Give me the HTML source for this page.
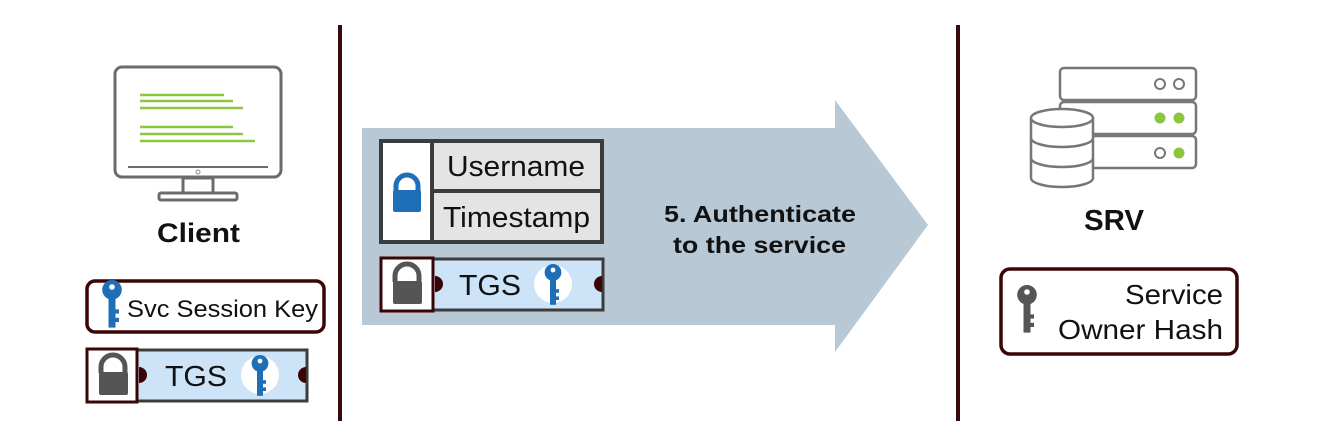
<!DOCTYPE html>
<html><head><meta charset="utf-8"><style>
html,body{margin:0;padding:0;background:#fff;}
svg{display:block;font-family:"Liberation Sans",Arial,sans-serif;}
</style></head><body>
<svg width="1343" height="441" viewBox="0 0 1343 441" xmlns="http://www.w3.org/2000/svg">
<defs>
<g id="bkey"><circle cx="0" cy="-8" r="7"/><rect x="-2.5" y="-3" width="5" height="22"/><rect x="1" y="6" width="4" height="3"/><rect x="1" y="12" width="4" height="3"/><circle cx="0" cy="-10" r="2" fill="#fff"/></g>
</defs>
<rect width="1343" height="441" fill="#fff"/>
<line x1="340" y1="25" x2="340" y2="421" stroke="#3a0a0a" stroke-width="4"/>
<line x1="958" y1="25" x2="958" y2="421" stroke="#3a0a0a" stroke-width="4"/>
<rect x="115" y="67" width="166" height="110" rx="7" fill="#fff" stroke="#6b6b6b" stroke-width="3"/>
<line x1="128" y1="167" x2="268" y2="167" stroke="#6b6b6b" stroke-width="2"/>
<circle cx="198" cy="172" r="2" fill="none" stroke="#888" stroke-width="1"/>
<rect x="183" y="178" width="30" height="15" fill="none" stroke="#6b6b6b" stroke-width="3"/>
<rect x="159" y="193" width="78" height="7" rx="2" fill="none" stroke="#6b6b6b" stroke-width="3"/>
<g stroke="#8cc63f" stroke-width="2.5">
<line x1="140" y1="95" x2="224" y2="95"/><line x1="140" y1="101" x2="233" y2="101"/><line x1="140" y1="108" x2="243" y2="108"/>
<line x1="140" y1="127" x2="233" y2="127"/><line x1="140" y1="134" x2="243" y2="134"/><line x1="140" y1="141" x2="255" y2="141"/>
</g>
<text x="157" y="242" font-size="27" font-weight="bold" textLength="83" lengthAdjust="spacingAndGlyphs" fill="#111">Client</text>
<rect x="87" y="281" width="237" height="51" rx="8" fill="#fff" stroke="#3a0505" stroke-width="3.5"/>
<g fill="#1f6fb8" transform="translate(112,301) scale(1.4)"><use href="#bkey"/></g>
<text x="127" y="317" font-size="24" textLength="191" lengthAdjust="spacingAndGlyphs" fill="#111">Svc Session Key</text>
<rect x="137" y="350" width="170" height="51" fill="#cce3f8" stroke="#3c3c3c" stroke-width="3"/>
<rect x="87" y="349" width="50" height="53" fill="#fff" stroke="#3a0505" stroke-width="3"/>
<path d="M101 373 v-6 a12 12 0 0 1 24 0 v6" fill="none" stroke="#555" stroke-width="5"/>
<rect x="99" y="372" width="29" height="23" rx="2" fill="#555"/>
<path d="M139 367 a8 8 0 0 1 0 16 z" fill="#3a0505"/>
<path d="M306 367 a8 8 0 0 0 0 16 z" fill="#3a0505"/>
<text x="165" y="386" font-size="29" textLength="62" lengthAdjust="spacingAndGlyphs" fill="#111">TGS</text>
<circle cx="260" cy="375" r="19" fill="#fff"/>
<g fill="#1f6fb8" transform="translate(260,373) scale(1.2)"><use href="#bkey"/></g>
<polygon points="362,128 835,128 835,100 928,225 835,352 835,325 362,325" fill="#b8c8d4"/>
<rect x="381" y="141" width="221" height="101" fill="#e4e4e4" stroke="#3c3c3c" stroke-width="4"/>
<rect x="383" y="143" width="49" height="97" fill="#fff"/>
<line x1="432" y1="141" x2="432" y2="242" stroke="#3c3c3c" stroke-width="4"/>
<line x1="432" y1="191" x2="602" y2="191" stroke="#3c3c3c" stroke-width="4"/>
<path d="M396 192 v-6 a11 11 0 0 1 22 0 v6" fill="none" stroke="#1f6fb8" stroke-width="5"/>
<rect x="393" y="190" width="28" height="22" rx="2" fill="#1f6fb8"/>
<text x="447" y="176" font-size="29" textLength="138" lengthAdjust="spacingAndGlyphs" fill="#111">Username</text>
<text x="443" y="227" font-size="29" textLength="147" lengthAdjust="spacingAndGlyphs" fill="#111">Timestamp</text>
<rect x="433" y="259" width="170" height="51" fill="#cce3f8" stroke="#3c3c3c" stroke-width="3"/>
<rect x="381" y="258" width="52" height="53" fill="#fff" stroke="#3a0505" stroke-width="3"/>
<path d="M395 282 v-6 a12 12 0 0 1 24 0 v6" fill="none" stroke="#555" stroke-width="5"/>
<rect x="393" y="281" width="29" height="23" rx="2" fill="#555"/>
<path d="M435 276 a8 8 0 0 1 0 16 z" fill="#3a0505"/>
<path d="M602 276 a8 8 0 0 0 0 16 z" fill="#3a0505"/>
<text x="459" y="295" font-size="29" textLength="62" lengthAdjust="spacingAndGlyphs" fill="#111">TGS</text>
<circle cx="553" cy="284" r="19" fill="#fff"/>
<g fill="#1f6fb8" transform="translate(553,282) scale(1.2)"><use href="#bkey"/></g>
<text x="664" y="222" font-size="23" font-weight="bold" textLength="192" lengthAdjust="spacingAndGlyphs" fill="#111">5. Authenticate</text>
<text x="673" y="253" font-size="23" font-weight="bold" textLength="173" lengthAdjust="spacingAndGlyphs" fill="#111">to the service</text>
<g fill="#fff" stroke="#777" stroke-width="2.5">
<rect x="1060" y="68" width="136" height="32" rx="4"/>
<rect x="1060" y="102" width="136" height="32" rx="4"/>
<rect x="1060" y="136" width="136" height="32" rx="4"/>
</g>
<g stroke="#777" stroke-width="2" fill="none"><circle cx="1160" cy="84" r="5"/><circle cx="1179" cy="84" r="5"/><circle cx="1160" cy="153" r="5"/></g>
<g fill="#8cc63f"><circle cx="1160" cy="118" r="5.5"/><circle cx="1179" cy="118" r="5.5"/><circle cx="1179" cy="153" r="5.5"/></g>
<path d="M1031 118 v60 a31 9 0 0 0 62 0 v-60" fill="#fff" stroke="#777" stroke-width="2.5"/>
<ellipse cx="1062" cy="118" rx="31" ry="9" fill="#fff" stroke="#777" stroke-width="2.5"/>
<path d="M1031 138 a31 9 0 0 0 62 0 M1031 158 a31 9 0 0 0 62 0" fill="none" stroke="#777" stroke-width="2.5"/>
<text x="1084" y="230" font-size="29" font-weight="bold" textLength="60" lengthAdjust="spacingAndGlyphs" fill="#111">SRV</text>
<rect x="1001" y="269" width="236" height="85" rx="9" fill="#fff" stroke="#3a0505" stroke-width="3.5"/>
<g fill="#555" transform="translate(1027,306) scale(1.4)"><use href="#bkey"/></g>
<text x="1125" y="304" font-size="28" textLength="98" lengthAdjust="spacingAndGlyphs" fill="#111">Service</text>
<text x="1058" y="339" font-size="28" textLength="165" lengthAdjust="spacingAndGlyphs" fill="#111">Owner Hash</text>
</svg>
</body></html>
